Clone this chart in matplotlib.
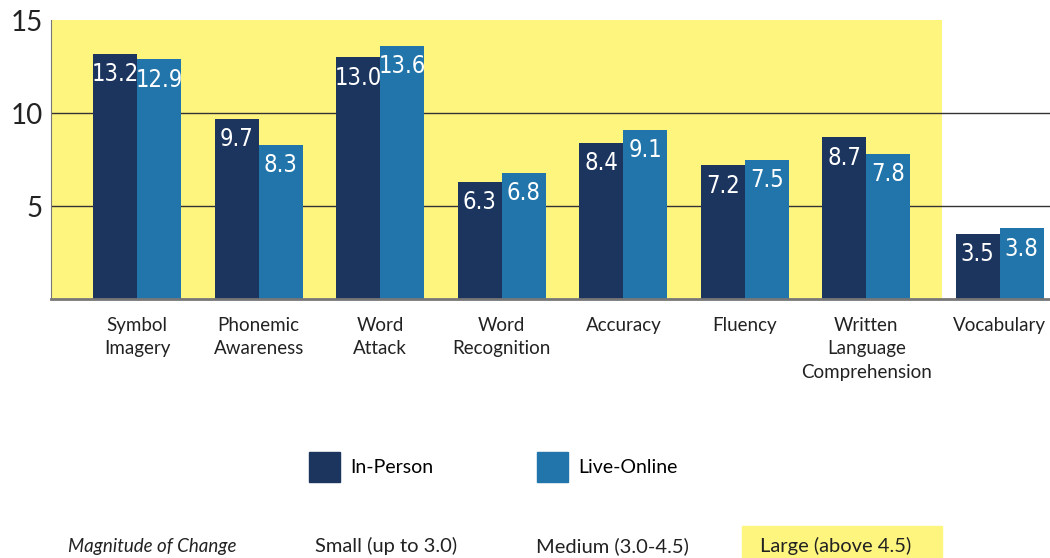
import numpy as np
import matplotlib
matplotlib.use("Agg")
import matplotlib.pyplot as plt
from matplotlib.patches import Patch

plt.rcParams['font.family'] = ['Lato', 'DejaVu Sans']

categories = ["Symbol\nImagery", "Phonemic\nAwareness", "Word\nAttack", "Word\nRecognition",
              "Accuracy", "Fluency", "Written\nLanguage\nComprehension", "Vocabulary"]
in_person = [13.2, 9.7, 13.0, 6.3, 8.4, 7.2, 8.7, 3.5]
live_online = [12.9, 8.3, 13.6, 6.8, 9.1, 7.5, 7.8, 3.8]
magnitude = ["Small (up to 3.0)", "Medium (3.0-4.5)", "Large (above 4.5)"]

c_in = "#1c355e"
c_on = "#2175aa"
yellow = "#fef57f"

fig = plt.figure(figsize=(10.5, 5.58), dpi=100)
ax = fig.add_axes([0.0486, 0.464, 0.9514, 0.5])

x = np.arange(len(categories), dtype=float)
x[-1] += 0.095  # vocabulary sits a bit apart
w = 0.362

ax.axvspan(-0.708, 6.625, color=yellow, zorder=0, lw=0)
for yv in [5, 10]:
    ax.axhline(yv, color="#333333", lw=1, zorder=1)

b1 = ax.bar(x - w / 2, in_person, w, color=c_in, zorder=2)
b2 = ax.bar(x + w / 2, live_online, w, color=c_on, zorder=2)
for bars, vals in [(b1, in_person), (b2, live_online)]:
    for b, v in zip(bars, vals):
        ax.text(b.get_x() + b.get_width() / 2, v - 0.45, f"{v:.1f}", ha="center", va="top",
                color="white", fontsize=17, family="DejaVu Sans", stretch="condensed",
                zorder=3)

ax.set_xlim(-0.708, 7.51)
ax.set_ylim(0, 15)
ax.set_yticks([5, 10, 15])
ax.set_yticklabels(["5", "10", "15"], fontsize=20, color="#222222")
ax.set_xticks(x)
ax.set_xticklabels(categories, fontsize=13.5, color="#222222", linespacing=1.45)
ax.tick_params(axis="both", length=0)
ax.tick_params(axis="x", pad=13)
ax.tick_params(axis="y", pad=6)
for s in ["top", "right"]:
    ax.spines[s].set_visible(False)
ax.spines["left"].set_color("#777777")
ax.spines["bottom"].set_color("#777777")
ax.spines["bottom"].set_linewidth(2)

handles = [Patch(color=c_in), Patch(color=c_on)]
fig.legend(handles, ["In-Person", "Live-Online"], loc="center", bbox_to_anchor=(0.47, 0.163),
           ncol=2, frameon=False, fontsize=14, handlelength=1.6, handleheight=2.0,
           columnspacing=5.3, handletextpad=0.55)

fig.text(0.065, 0.021, "Magnitude of Change", style="italic", fontsize=13.5, color="#222222", va="center")
fig.text(0.3, 0.021, magnitude[0], fontsize=14.5, color="#222222", va="center")
fig.text(0.51, 0.021, magnitude[1], fontsize=14.5, color="#222222", va="center")
fig.text(0.724, 0.021, magnitude[2], fontsize=14.5, color="#222222", va="center")
fig.patches.append(plt.Rectangle((0.707, 0.0), 0.19, 0.057, transform=fig.transFigure,
                                 color=yellow, zorder=0))

fig.savefig("out.png", dpi=100)
